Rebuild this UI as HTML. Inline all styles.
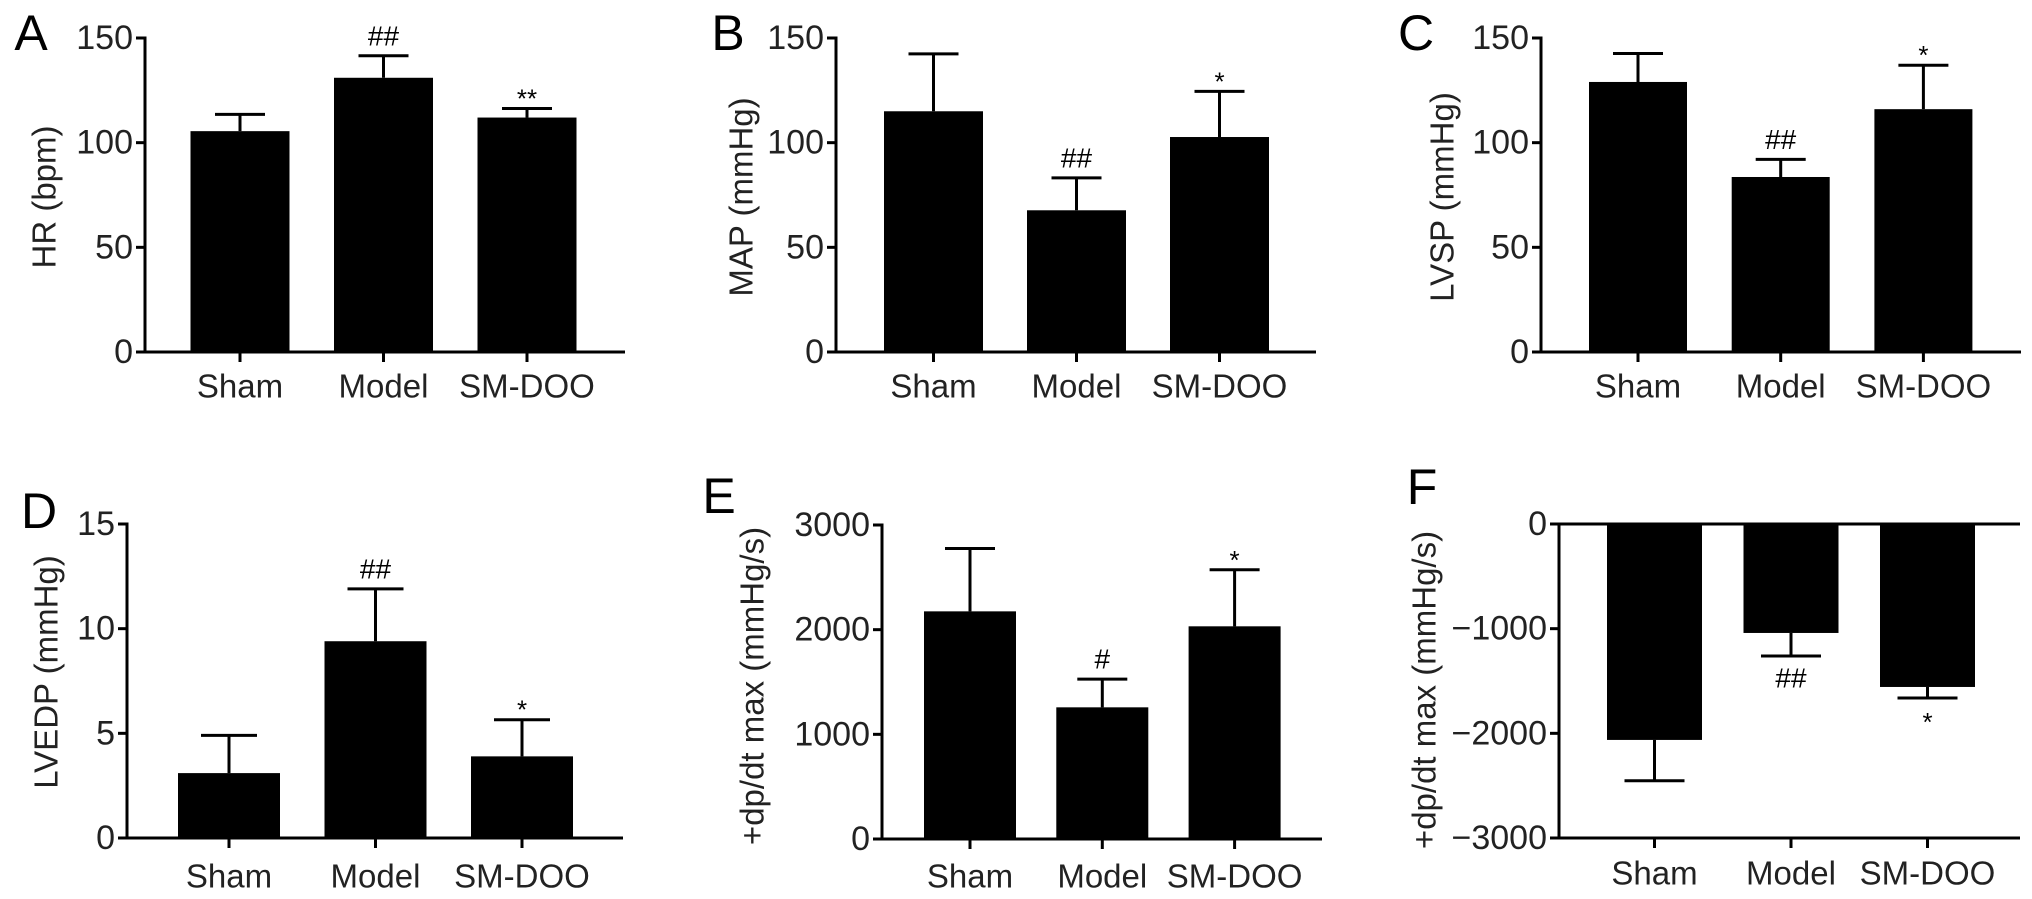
<!DOCTYPE html>
<html><head><meta charset="utf-8"><style>
html,body{margin:0;padding:0;background:#fff}
svg{display:block;font-family:"Liberation Sans",Arial,sans-serif}
</style></head><body>
<svg id="fig" width="2032" height="899" viewBox="0 0 2032 899" xmlns="http://www.w3.org/2000/svg"></svg>
<script>
const categories = ["Sham", "Model", "SM-DOO"];
const hrValues = [105.5, 131, 112];
const hrErrors = [8, 10.5, 4.3];
const mapValues = [115, 67.7, 102.7];
const mapErrors = [27.4, 15.5, 21.8];
const lvspValues = [129, 83.6, 116];
const lvspErrors = [13.6, 8.4, 21];
const lvedpValues = [3.1, 9.4, 3.9];
const lvedpErrors = [1.8, 2.5, 1.75];
const dpMaxValues = [2175, 1258, 2032];
const dpMaxErrors = [600, 270, 540];
const dpMinValues = [-2063, -1041, -1557];
const dpMinErrors = [-390, -220, -105];
const ticks150 = [0, 50, 100, 150];
const ticks15 = [0, 5, 10, 15];
const ticks3000 = [0, 1000, 2000, 3000];
const ticksNeg = [0, -1000, -2000, -3000];
const tickLabelsNeg = ["0", "\u22121000", "\u22122000", "\u22123000"];
const hrMarks = ["", "##", "**"];
const mapMarks = ["", "##", "*"];
const lvspMarks = ["", "##", "*"];
const lvedpMarks = ["", "##", "*"];
const dpMaxMarks = ["", "#", "*"];
const dpMinMarks = ["", "##", "*"];

const panels = [
 {id:"a",letter:"A",lx:31,ly:33,title:"HR (bpm)",tx:44,ty:197,ax:145,y0:352,yTop:38,xEnd:625,min:0,max:150,ticks:ticks150,labels:null,vals:hrValues,errs:hrErrors,marks:hrMarks,c0:240,step:143.5,bw:99,cap:25,catY:386},
 {id:"b",letter:"B",lx:728,ly:33,title:"MAP (mmHg)",tx:741,ty:197,ax:836,y0:352,yTop:38,xEnd:1316,min:0,max:150,ticks:ticks150,labels:null,vals:mapValues,errs:mapErrors,marks:mapMarks,c0:933.5,step:143,bw:99,cap:25,catY:386},
 {id:"c",letter:"C",lx:1416,ly:33,title:"LVSP (mmHg)",tx:1442,ty:197,ax:1541,y0:352,yTop:38,xEnd:2021,min:0,max:150,ticks:ticks150,labels:null,vals:lvspValues,errs:lvspErrors,marks:lvspMarks,c0:1638,step:142.7,bw:98,cap:25,catY:386},
 {id:"d",letter:"D",lx:39,ly:511,title:"LVEDP (mmHg)",tx:46,ty:672,ax:127,y0:838,yTop:524,xEnd:623,min:0,max:15,ticks:ticks15,labels:null,vals:lvedpValues,errs:lvedpErrors,marks:lvedpMarks,c0:229,step:146.5,bw:102,cap:28,catY:876},
 {id:"e",letter:"E",lx:719,ly:496,title:"+dp/dt max (mmHg/s)",tx:752,ty:686,ax:882,y0:839,yTop:525,xEnd:1322,min:0,max:3000,ticks:ticks3000,labels:null,vals:dpMaxValues,errs:dpMaxErrors,marks:dpMaxMarks,c0:970,step:132.3,bw:92,cap:25,catY:876},
 {id:"f",letter:"F",lx:1422,ly:487,title:"+dp/dt max (mmHg/s)",tx:1424,ty:690,ax:1559,y0:524,yTop:838,xEnd:2020,min:0,max:-3000,ticks:ticksNeg,labels:tickLabelsNeg,vals:dpMinValues,errs:dpMinErrors,marks:dpMinMarks,c0:1654.5,step:136.5,bw:95,cap:30,catY:873,neg:true}
];
const NS="http://www.w3.org/2000/svg";
const svg=document.getElementById("fig");
function mk(tag,attrs,parent,text){const e=document.createElementNS(NS,tag);for(const k in attrs)e.setAttribute(k,attrs[k]);if(text!==undefined)e.textContent=text;parent.appendChild(e);return e;}
panels.forEach(p=>{
 const g=mk("g",{},svg);
 
 
 const y=v=>p.y0+(v-p.min)/(p.max-p.min)*(p.yTop-p.y0);
 const x=i=>p.c0+i*p.step;
 const L=mk("text",{x:p.lx,y:p.ly,"font-size":50,"text-anchor":"middle","dominant-baseline":"central"},g,p.letter);
 
 
 const T=mk("text",{x:0,y:0,"font-size":33,"text-anchor":"middle","dominant-baseline":"central",fill:"#222",transform:`translate(${p.tx},${p.ty}) rotate(-90)`},g,p.title);
 
 
 p.vals.forEach((v,i)=>{
  const top=Math.min(y(v),y(0)),h=Math.abs(y(v)-y(0));
  const r=mk("rect",{x:x(i)-p.bw/2,y:top,width:p.bw,height:h,fill:"#000"},g);
  
  
  const e=v+p.errs[i];
  const eb=mk("path",{d:`M${x(i)},${y(v)}V${y(e)}M${x(i)-p.cap},${y(e)}H${x(i)+p.cap}`,stroke:"#000","stroke-width":3,fill:"none"},g);
  
  
  if(p.marks[i]){
   const star=p.marks[i].indexOf("*")>=0;
   const my=p.neg? y(e)+(star?24:22) : y(e)-(star?10:20);
   const m=mk("text",{x:x(i),y:my,"font-size":star?26:28,"text-anchor":"middle","dominant-baseline":"central"},g,p.marks[i]);
   
   
  }
 });
 const ya=mk("line",{x1:p.ax,y1:Math.min(p.y0,p.yTop)-1.5,x2:p.ax,y2:Math.max(p.y0,p.yTop)+1.5,stroke:"#000","stroke-width":3},g);
 
 
 const xLineY=p.neg?p.yTop:p.y0;
 const xa=mk("line",{x1:p.ax,y1:xLineY,x2:p.xEnd,y2:xLineY,stroke:"#000","stroke-width":3},g);
 
 
 if(p.neg){
  const zl=mk("line",{x1:p.ax,y1:p.y0,x2:p.xEnd,y2:p.y0,stroke:"#000","stroke-width":3},g);
  
  
 }
 p.ticks.forEach((t,k)=>{
  mk("line",{x1:p.ax-9,y1:y(t),x2:p.ax,y2:y(t),stroke:"#000","stroke-width":3},g);
  const tl=mk("text",{x:p.ax-12,y:y(t),"font-size":34,"text-anchor":"end","dominant-baseline":"central",fill:"#222"},g,p.labels?p.labels[k]:String(t));
  
  
 });
 categories.forEach((c,i)=>{
  mk("line",{x1:x(i),y1:xLineY,x2:x(i),y2:xLineY+10,stroke:"#000","stroke-width":3},g);
  const cl=mk("text",{x:x(i),y:p.catY,"font-size":33,"text-anchor":"middle","dominant-baseline":"central",fill:"#222"},g,c);
  
  
 });
});
</script>
</body></html>
